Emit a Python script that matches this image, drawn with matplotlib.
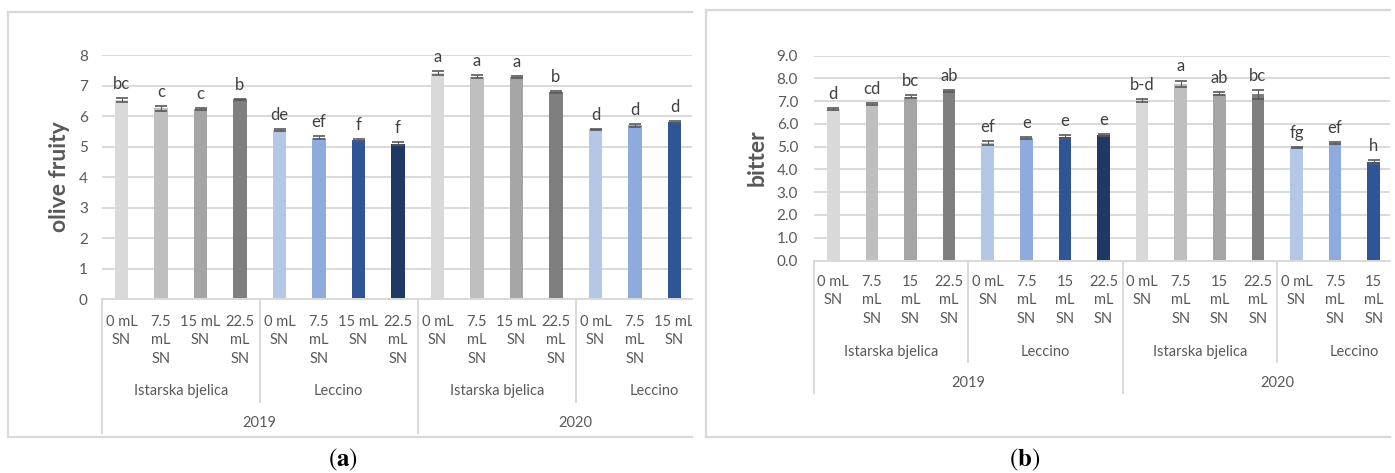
import matplotlib
matplotlib.use("Agg")
import matplotlib.pyplot as plt
import matplotlib.transforms as mtransforms
from matplotlib.lines import Line2D

W, H = 1395, 473

# ---- data (only the 15 visible bars of each panel) ----
cultivars = ["Istarska bjelica", "Leccino", "Istarska bjelica", "Leccino"]
years = ["2019", "2020"]
ticks_a = ["0 mL\nSN", "7.5\nmL\nSN", "15 mL\nSN", "22.5\nmL\nSN"]
ticks_b = ["0 mL\nSN", "7.5\nmL\nSN", "15\nmL\nSN", "22.5\nmL\nSN"]

fruity = [6.52, 6.25, 6.24, 6.55, 5.54, 5.29, 5.21, 5.09,
          7.42, 7.29, 7.27, 6.78, 5.56, 5.69, 5.79]
fruity_err = [0.06, 0.07, 0.03, 0.02, 0.03, 0.05, 0.04, 0.05,
              0.07, 0.06, 0.04, 0.03, 0.02, 0.04, 0.03]
fruity_letters = ["bc", "c", "c", "b", "de", "ef", "f", "f",
                  "a", "a", "a", "b", "d", "d", "d"]

bitter = [6.67, 6.88, 7.20, 7.45, 5.18, 5.40, 5.43, 5.51,
          7.02, 7.76, 7.33, 7.30, 4.96, 5.15, 4.33]
bitter_err = [0.04, 0.06, 0.06, 0.04, 0.09, 0.04, 0.10, 0.06,
              0.07, 0.15, 0.07, 0.19, 0.03, 0.04, 0.10]
bitter_letters = ["d", "cd", "bc", "ab", "ef", "e", "e", "e",
                  "b-d", "a", "ab", "bc", "fg", "ef", "h"]

grays = ["#D9D9D9", "#BFBFBF", "#A5A5A5", "#7F7F7F"]
blues = ["#B4C7E7", "#8FAADC", "#2F5597", "#203864"]
colors = (grays + blues) * 2

plt.rcParams["font.family"] = ["Lato", "DejaVu Sans"]
grid_c = "#D9D9D9"
txt_c = "#595959"

fig = plt.figure(figsize=(W / 100, H / 100), dpi=100)


def fy(y):
    return 1 - y / H


def frame(x0, x1, y0, y1):
    kw = dict(color=grid_c, lw=1.6, transform=fig.transFigure)
    fig.add_artist(Line2D([x0 / W, x1 / W], [fy(y0), fy(y0)], **kw))
    fig.add_artist(Line2D([x0 / W, x1 / W], [fy(y1), fy(y1)], **kw))
    fig.add_artist(Line2D([x0 / W, x0 / W], [fy(y0), fy(y1)], **kw))


def panel(left, right, top, bottom, cw, ymax, ystep, fmt, vals, errs, letters,
          ticks, ylabel, ylab_x, rows, sep_var, sep_year, pad):
    ax = fig.add_axes([left / W, fy(bottom), (right - left) / W, (bottom - top) / H])
    n = len(vals)
    x = list(range(n))
    ax.bar(x, vals, width=0.33, color=colors[:n], zorder=2)
    ax.errorbar(x, vals, yerr=errs, fmt="none", ecolor="#595959",
                elinewidth=0.8, capsize=4.6, capthick=1.2, zorder=3)
    for xi, v, e, s in zip(x, vals, errs, letters):
        ax.annotate(s, (xi, v + e), xytext=(0, 6.5), textcoords="offset points",
                    ha="center", va="baseline", fontsize=12, color="#404040",
                    annotation_clip=False)
    ax.set_xlim(-0.5, -0.5 + (right - left) / cw)
    ax.set_ylim(0, ymax)
    yt = [i * ystep for i in range(int(round(ymax / ystep)) + 1)]
    ax.set_yticks(yt)
    ax.set_yticklabels([fmt.format(t) for t in yt])
    ax.set_xticks([])
    ax.tick_params(axis="y", length=0, pad=pad, labelsize=11, labelcolor=txt_c)
    ax.yaxis.grid(True, color=grid_c, lw=1.4)
    ax.set_axisbelow(True)
    for s in ["top", "right", "left"]:
        ax.spines[s].set_visible(False)
    ax.spines["bottom"].set_color(grid_c)
    ax.spines["bottom"].set_linewidth(1.4)

    clip = mtransforms.TransformedBbox(
        mtransforms.Bbox([[0, 0], [right / W, 1]]), fig.transFigure)
    tr = mtransforms.blended_transform_factory(ax.transData, fig.transFigure)
    for xi in x:
        t = ax.text(xi, fy(rows[0]), ticks[xi % 4], transform=tr, ha="center",
                    va="top", fontsize=10.5, color=txt_c, linespacing=1.42)
        t.set_clip_box(clip)
        t.set_clip_on(True)
    for g, name in enumerate(cultivars):
        t = ax.text(4 * g + 1.5, fy(rows[1]), name, transform=tr, ha="center",
                    va="center", fontsize=10.5, color=txt_c)
        t.set_clip_box(clip)
        t.set_clip_on(True)
    for g, name in enumerate(years):
        ax.text(8 * g + 3.5, fy(rows[2]), name, transform=tr, ha="center",
                va="center", fontsize=10.5, color=txt_c)
    for xs, yb in [(-0.5, sep_year), (3.5, sep_var), (7.5, sep_year), (11.5, sep_var)]:
        ax.plot([xs, xs], [fy(bottom), fy(yb)], transform=tr, color=grid_c,
                lw=1.4, clip_on=False)
    fig.text(ylab_x / W, fy((top + bottom) / 2), ylabel, rotation=90,
             ha="center", va="center", fontsize=16.5, fontweight="bold", color=txt_c)
    return ax


frame(8, 692, 12.5, 436.5)
panel(101.75, 692, 55, 299, 39.5, 8, 1, "{:.0f}", fruity, fruity_err,
      fruity_letters, ticks_a, "olive fruity", 60,
      (314.5, 391, 422.5), 401.7, 433, 10)

frame(705.5, 1390, 10.5, 436.5)
panel(814, 1390, 55.7, 260.5, 38.6, 9, 1, "{:.1f}", bitter, bitter_err,
      bitter_letters, ticks_b, "bitter", 757,
      (274.5, 351.7, 383.3), 361.7, 393.3, 11.5)

for lx, s in [(343, "a"), (1025, "b")]:
    fig.text(lx / W, fy(460), "($\\mathbf{" + s + "}$)", ha="center", va="center",
             fontsize=18, family="STIXGeneral", math_fontfamily="stix")

fig.savefig("out.png", dpi=100)
